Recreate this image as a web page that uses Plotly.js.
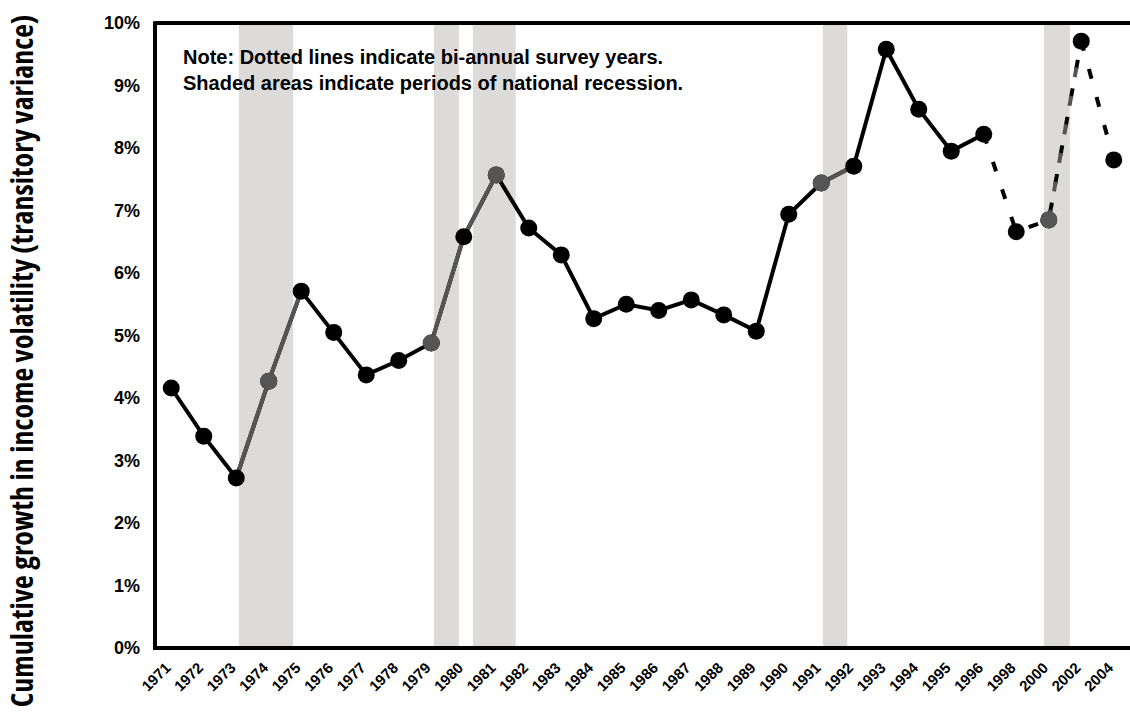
<!DOCTYPE html>
<html>
<head>
<meta charset="utf-8">
<script src="https://cdn.plot.ly/plotly-3.0.1.min.js"></script>
<style>html,body{margin:0;padding:0;background:#fff;}#chart{width:1130px;height:715px;}
g.annotation[data-index="1"] text{font-stretch:75%;}
</style>
</head>
<body>
<div id="chart"></div>
<script>
// ---- data ----
const annualYears = ['1971','1972','1973','1974','1975','1976','1977','1978','1979','1980','1981','1982','1983','1984','1985','1986','1987','1988','1989','1990','1991','1992','1993','1994','1995','1996'];
const annualValues = [4.16,3.39,2.72,4.27,5.71,5.05,4.37,4.60,4.88,6.58,7.57,6.72,6.29,5.27,5.50,5.40,5.57,5.33,5.07,6.94,7.44,7.71,9.58,8.62,7.95,8.22];
const biannualYears = ['1996','1998','2000','2002','2004'];
const biannualValues = [8.22,6.66,6.85,9.71,7.81];
const allYears = annualYears.concat(biannualYears.slice(1));
const allValues = annualValues.concat(biannualValues.slice(1));
// segments drawn in grey (recession years)
const greySolidSegments = [['1973','1974','1975'],['1979','1980','1981'],['1991','1992']];
const greyDottedSegments = [['2000','2002']];
const greyMarkerYears = ['1974','1979','1981','1991','2000'];
// recession shading, in category-index units (1971 = 0)
const recessionStart = [2.08, 8.08, 9.28, 20.05, 26.85];
const recessionEnd   = [3.75, 8.85, 10.60, 20.80, 27.65];
const yTickVals = [0,1,2,3,4,5,6,7,8,9,10];
const noteText = 'Note: Dotted lines indicate bi-annual survey years.<br>Shaded areas indicate periods of national recession.';
const yTitle = 'Cumulative growth in income volatility (transitory variance)';

const valueOf = y => allValues[allYears.indexOf(y)];
const BLACK = '#000000', GREY = '#555555';
const DOTS = '10px,19px';

const traces = [];
traces.push({x: annualYears, y: annualValues, type:'scatter', mode:'lines', line:{color:BLACK, width:4}, hoverinfo:'skip'});
traces.push({x: biannualYears, y: biannualValues, type:'scatter', mode:'lines', line:{color:BLACK, width:4, dash:DOTS}, hoverinfo:'skip'});
greySolidSegments.forEach(seg => traces.push({x: seg, y: seg.map(valueOf), type:'scatter', mode:'lines', line:{color:GREY, width:4}, hoverinfo:'skip'}));
greyDottedSegments.forEach(seg => traces.push({x: seg, y: seg.map(valueOf), type:'scatter', mode:'lines', line:{color:GREY, width:4, dash:DOTS}, hoverinfo:'skip'}));
traces.push({x: allYears, y: allValues, type:'scatter', mode:'markers', marker:{color:BLACK, size:17}, hoverinfo:'skip'});
traces.push({x: greyMarkerYears, y: greyMarkerYears.map(valueOf), type:'scatter', mode:'markers', marker:{color:GREY, size:17}, hoverinfo:'skip'});

const shapes = recessionStart.map((s,i) => ({type:'rect', xref:'x', yref:'paper', x0:s, x1:recessionEnd[i], y0:0, y1:1, fillcolor:'#dcdbd9', line:{width:0}, layer:'below'}));
shapes.push({type:'line', xref:'paper', yref:'paper', x0:0, x1:1.02, y0:0, y1:0, line:{color:BLACK, width:4}, layer:'below'});
shapes.push({type:'line', xref:'paper', yref:'paper', x0:0, x1:1.02, y0:1, y1:1, line:{color:BLACK, width:4}, layer:'below'});
shapes.push({type:'line', xref:'paper', yref:'paper', x0:0, x1:0, y0:-0.003, y1:1.003, line:{color:BLACK, width:4}, layer:'below'});

const layout = {
  width:1130, height:715,
  margin:{l:155, r:0, t:23, b:67},
  paper_bgcolor:'#ffffff', plot_bgcolor:'#ffffff',
  showlegend:false,
  font:{family:'"Liberation Sans", Arial, sans-serif', color:BLACK},
  xaxis:{type:'category', categoryorder:'array', categoryarray:allYears, range:[-0.5, allYears.length-0.5],
         showgrid:false, zeroline:false, showline:false, ticks:'', tickangle:-45, automargin:false,
         tickfont:{size:15, weight:'bold', color:BLACK}},
  yaxis:{range:[0,10], tickvals:yTickVals, ticktext:yTickVals.map(v=>v+'%'), showgrid:false, zeroline:false, showline:false, ticks:'',
         tickfont:{size:18, weight:'bold', color:BLACK}, ticklabelstandoff:14},
  shapes: shapes,
  annotations:[
    {text:noteText, xref:'paper', yref:'paper', x:0, y:1, xanchor:'left', yanchor:'top', xshift:26, yshift:-21, align:'left', showarrow:false,
     font:{size:20, weight:'bold', color:BLACK, family:'"Liberation Sans", Arial, sans-serif'}},
    {text:yTitle, xref:'paper', yref:'paper', x:0, y:0.5, xanchor:'center', yanchor:'middle', xshift:-134, yshift:-26, textangle:-90, showarrow:false,
     font:{size:30, weight:'bold', color:BLACK, family:'"Open Sans", sans-serif'}}
  ]
};
// express the rotated tick-label transform as a plain matrix (same geometry)
function matrixTicks(){
  document.querySelectorAll('.xtick text').forEach(t => {
    const tr = t.getAttribute('transform') || '';
    const mT = tr.match(/translate\(\s*([-\d.e]+)[ ,]+([-\d.e]+)\s*\)/);
    const mR = tr.match(/rotate\(\s*([-\d.e]+)[ ,]+([-\d.e]+)[ ,]+([-\d.e]+)\s*\)/);
    if (!mR) return;
    const tx = mT ? +mT[1] : 0, ty = mT ? +mT[2] : 0;
    const ang = +mR[1] * Math.PI / 180, cx = +mR[2], cy = +mR[3];
    const a = Math.cos(ang), b = Math.sin(ang), c = -Math.sin(ang), d = Math.cos(ang);
    const e = tx + cx - a*cx - c*cy - 5;
    const f = ty + cy - b*cx - d*cy + 7;
    t.setAttribute('transform', 'matrix(' + [a,b,c,d,e,f].map(v => v.toFixed(4)).join(',') + ')');
  });
}
Plotly.newPlot('chart', traces, layout, {staticPlot:true, displayModeBar:false}).then(matrixTicks);
</script>
</body>
</html>
